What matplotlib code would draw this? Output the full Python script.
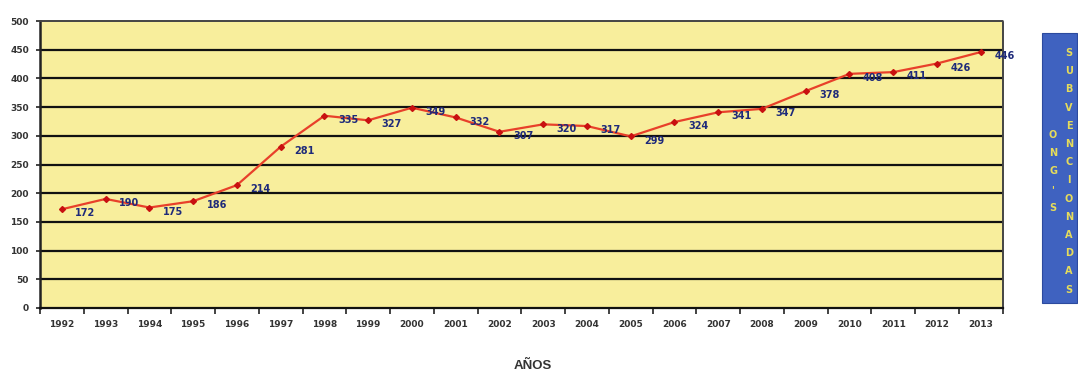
import matplotlib
matplotlib.use('Agg')
import matplotlib.pyplot as plt
import numpy as np

# Datos
anios = ['1992', '1993', '1994', '1995', '1996', '1997', '1998', '1999', '2000', '2001', '2002',
         '2003', '2004', '2005', '2006', '2007', '2008', '2009', '2010', '2011', '2012', '2013']
ongs = [172, 190, 175, 186, 214, 281, 335, 327, 349, 332, 307,
        320, 317, 299, 324, 341, 347, 378, 408, 411, 426, 446]
y_ticks = [0, 50, 100, 150, 200, 250, 300, 350, 400, 450, 500]

fuente = ['Liberation Sans Narrow', 'DejaVu Sans']

fig = plt.figure(figsize=(10.78, 3.76), dpi=100)
ax = fig.add_axes([0.0371, 0.181, 0.893, 0.763])
ax.set_facecolor('#F8EE9C')

x = np.arange(len(anios))
ax.set_xlim(-0.5, len(anios) - 0.5)
ax.set_ylim(0, 500)

# lineas horizontales
for v in y_ticks[1:-1]:
    ax.axhline(v, color='#111111', lw=1.6, zorder=1)

ax.plot(x, ongs, color='#E8402A', lw=1.6, marker='D', markersize=3,
        markerfacecolor='#C81010', markeredgecolor='#C81010', zorder=3)

for xi, v in zip(x, ongs):
    ax.annotate(str(v), (xi, v), xytext=(17, -3), textcoords='offset points',
                ha='center', va='center', fontsize=7, fontweight='bold',
                color='#1E2A7A', family=fuente, zorder=4)

ax.set_xticks(x)
ax.set_xticklabels(anios)
ax.set_xticks(np.arange(len(anios) + 1) - 0.5, minor=True)
ax.tick_params(axis='x', which='major', length=0, pad=9, labelsize=6.5, labelcolor='#333333')
ax.tick_params(axis='x', which='minor', length=4, width=1.2, color='#222222')
ax.set_yticks(y_ticks)
ax.tick_params(axis='y', length=3, width=1.2, color='#222222', pad=5, labelsize=6.5,
               labelcolor='#333333')
for lab in ax.get_xticklabels() + ax.get_yticklabels():
    lab.set_family(fuente)
    lab.set_fontweight('bold')

ax.spines['bottom'].set_color('#111111')
ax.spines['bottom'].set_linewidth(1.6)
ax.spines['left'].set_color('#222222')
ax.spines['left'].set_linewidth(1.8)
ax.spines['left'].set_linestyle((0, (1, 1)))
for s in ['top', 'right']:
    ax.spines[s].set_color('#444444')
    ax.spines[s].set_linewidth(1.4)
    ax.spines[s].set_linestyle((0, (1, 1)))

fig.text(0.494, 0.027, 'AÑOS', ha='center', va='center', fontsize=9.5,
         fontweight='bold', color='#333333', family=['Liberation Sans', 'DejaVu Sans'])

# recuadro azul de la derecha
caja = plt.Rectangle((1042 / 1078, 1 - 303 / 376), 35 / 1078, 270 / 376,
                     transform=fig.transFigure, facecolor='#3F62C0',
                     edgecolor='#2C4A9E', lw=0.8)
fig.patches.append(caja)

paso = 18.2 / 376
col1 = list("ONG'S")
col2 = list('SUBVENCIONADAS')
y0 = 1 - 135 / 376
for i, c in enumerate(col1):
    fig.text(1053 / 1078, y0 - i * paso, c, ha='center', va='center', fontsize=7,
             fontweight='bold', color='#E6DC5A', family=fuente)
y0 = 1 - 53 / 376
for i, c in enumerate(col2):
    fig.text(1069 / 1078, y0 - i * paso, c, ha='center', va='center', fontsize=7,
             fontweight='bold', color='#E6DC5A', family=fuente)

fig.savefig('out.png', dpi=100)
